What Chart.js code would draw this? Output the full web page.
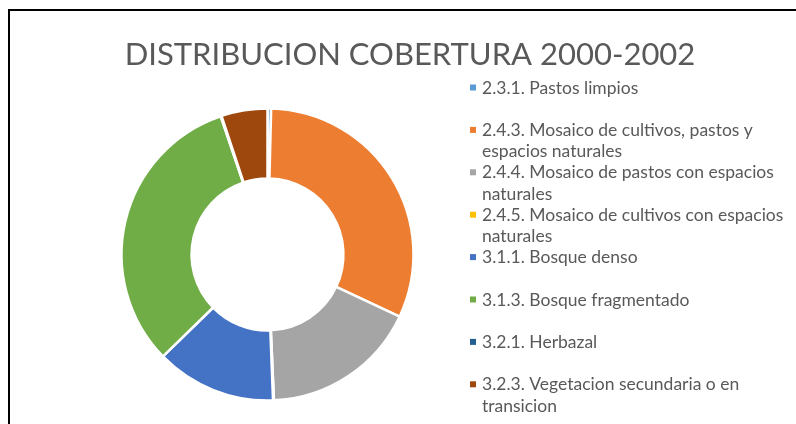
<!DOCTYPE html>
<html>
<head>
<meta charset="utf-8">
<title>Distribucion cobertura 2000-2002</title>
<script src="https://cdn.jsdelivr.net/npm/chart.js@4/dist/chart.umd.min.js"></script>
<style>
  html, body { margin: 0; padding: 0; background: #fff; overflow: hidden; }
  #wrap { position: relative; width: 796px; height: 424px; }
</style>
</head>
<body>
<div id="wrap"><canvas id="coberturaChart" width="796" height="424"></canvas></div>
<script>
// coberturas (porcentaje del area)
const categorias = [
  '2.3.1. Pastos limpios',
  '2.4.3. Mosaico de cultivos, pastos y espacios naturales',
  '2.4.4. Mosaico de pastos con espacios naturales',
  '2.4.5. Mosaico de cultivos con espacios naturales',
  '3.1.1. Bosque denso',
  '3.1.3. Bosque fragmentado',
  '3.2.1. Herbazal',
  '3.2.3. Vegetacion secundaria o en transicion'
];
const porcentajes = [0.4, 31.6, 17.3, 0.1, 13.3, 32.1, 0.1, 5.1];
const colores = ['#5B9BD5', '#ED7D31', '#A5A5A5', '#FFC000', '#4472C4', '#70AD47', '#255E91', '#9E480E'];
const titulo = 'DISTRIBUCION COBERTURA 2000-2002';

// como se parten las etiquetas largas de la leyenda
const lineasLeyenda = [
  ['2.3.1. Pastos limpios'],
  ['2.4.3. Mosaico de cultivos, pastos y', 'espacios naturales'],
  ['2.4.4. Mosaico de pastos con espacios', 'naturales'],
  ['2.4.5. Mosaico de cultivos con espacios', 'naturales'],
  ['3.1.1. Bosque denso'],
  ['3.1.3. Bosque fragmentado'],
  ['3.2.1. Herbazal'],
  ['3.2.3. Vegetacion secundaria o en', 'transicion']
];

const textoColor = '#595959';

// marco, titulo y leyenda
const marcoYLeyenda = {
  id: 'marcoYLeyenda',
  afterDraw(chart) {
    const c = chart.ctx;
    c.save();
    c.strokeStyle = '#000';
    c.lineWidth = 2;
    c.beginPath();
    c.moveTo(9, 430);
    c.lineTo(9, 10);
    c.lineTo(800, 10);
    c.stroke();

    c.fillStyle = textoColor;
    c.textAlign = 'center';
    c.textBaseline = 'alphabetic';
    c.font = '31px Lato, "Open Sans", sans-serif';
    c.fillText(titulo, 410, 65);

    c.font = '17.5px Lato, "Open Sans", sans-serif';
    c.textAlign = 'left';
    lineasLeyenda.forEach((lineas, i) => {
      const base = 93.5 + i * 42.4;
      c.fillStyle = colores[i];
      c.fillRect(470, base - 9, 6, 6);
      c.fillStyle = textoColor;
      lineas.forEach((t, j) => c.fillText(t, 482, base + j * 21.3));
    });
    c.restore();
  }
};

new Chart(document.getElementById('coberturaChart'), {
  type: 'doughnut',
  data: {
    labels: categorias,
    datasets: [{
      data: porcentajes,
      backgroundColor: colores,
      borderColor: '#fff',
      borderWidth: 2.5,
      radius: 146,
      cutout: '52%',
      hoverOffset: 0
    }]
  },
  options: {
    responsive: false,
    animation: false,
    layout: { padding: { left: 120, right: 381, top: 107, bottom: 22 } },
    plugins: {
      legend: { display: false },
      title: { display: false },
      tooltip: { enabled: false }
    }
  },
  plugins: [marcoYLeyenda]
});
</script>
</body>
</html>
